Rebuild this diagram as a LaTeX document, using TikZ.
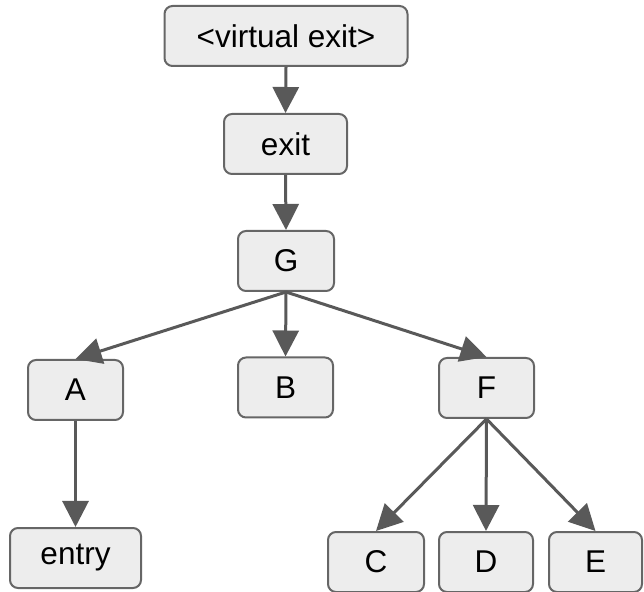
\documentclass[tikz,border=0pt]{standalone}
\usepackage{fontspec}
\setmainfont{Liberation Sans}
\usepackage{tikz}
\usetikzlibrary{shapes,arrows.meta}

\begin{document}
\begin{tikzpicture}[
  block/.style={draw=black!60, fill=black!7, line width=2pt, rounded corners=8pt,
    minimum height=60pt, inner sep=0pt, font=\fontsize{31.5}{37}\selectfont},
  edge/.style={draw=black!65, line width=3pt, -{Triangle[length=26pt,width=26pt]}}
]
\useasboundingbox (0,0) rectangle (644pt,591pt);

% to write the blocks
\node [block, minimum width=243pt] (vexit) at (286pt,555pt) {<virtual exit>};
\node [block, minimum width=123pt] (exit) at (285.5pt,447pt) {exit};
\node [block, minimum width=96pt] (G) at (286pt,330pt) {G};

\node [block, minimum width=95pt] (A) at (75.5pt,201pt) {A};
\node [block, minimum width=95pt] (B) at (285.5pt,203.5pt) {B};
\node [block, minimum width=95pt] (F) at (486.5pt,203pt) {F};

\node [block, minimum width=131pt] (entry) at (75.5pt,33pt) {entry};
\node [block, minimum width=96pt] (C) at (376pt,29pt) {C};
\node [block, minimum width=94pt] (D) at (486pt,29pt) {D};
\node [block, minimum width=93pt] (E) at (595.5pt,29pt) {E};

% to draw arrows
\draw [edge] (vexit.south) -- (exit.north);
\draw [edge] (exit.south) -- (G.north);
\draw [edge] (G.south) -- (A.north);
\draw [edge] (G.south) -- (B.north);
\draw [edge] (G.south) -- (F.north);
\draw [edge] (A.south) -- (entry.north);
\draw [edge] (F.south) -- (C.north);
\draw [edge] (F.south) -- (D.north);
\draw [edge] (F.south) -- (E.north);
\end{tikzpicture}
\end{document}
